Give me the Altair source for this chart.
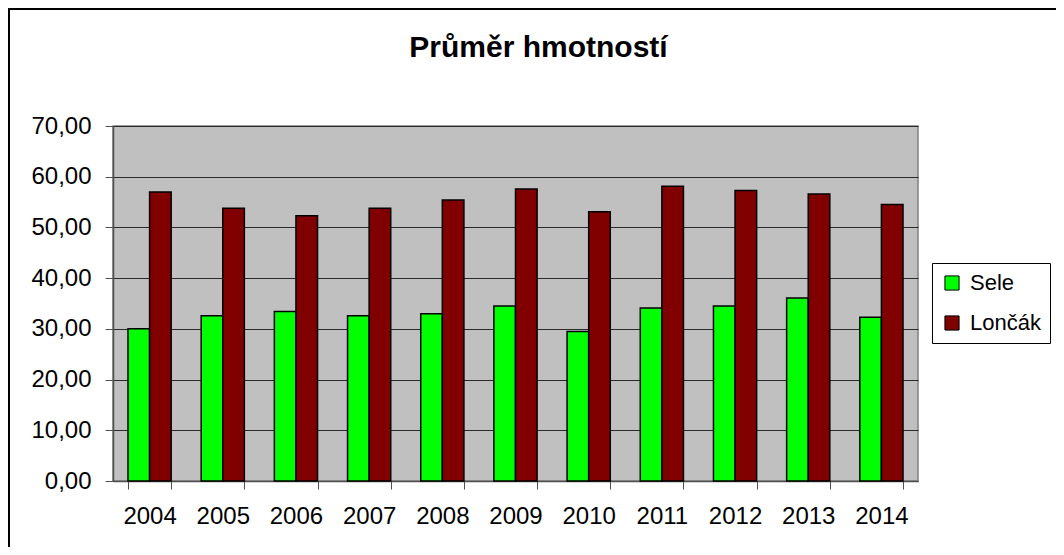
import altair as alt
import pandas as pd

years = ["2004", "2005", "2006", "2007", "2008", "2009", "2010", "2011", "2012", "2013", "2014"]
sele = [30.0, 32.6, 33.4, 32.6, 33.0, 34.5, 29.5, 34.1, 34.5, 36.1, 32.3]
loncak = [57.0, 53.8, 52.3, 53.8, 55.4, 57.6, 53.1, 58.1, 57.3, 56.6, 54.5]
series = ["Sele", "Lončák"]
colors = ["#00FF00", "#800000"]
y_ticks = [0, 10, 20, 30, 40, 50, 60, 70]

rows = []
for i, yr in enumerate(years):
    rows.append({"year": yr, "series": "Sele", "value": sele[i]})
    rows.append({"year": yr, "series": "Lončák", "value": loncak[i]})
df = pd.DataFrame(rows)

FONT = "Liberation Sans"

bars = alt.Chart(df).mark_bar(stroke="black", strokeWidth=1.5).encode(
    x=alt.X("year:N", sort=years,
            scale=alt.Scale(paddingInner=0.41, paddingOuter=0.205),
            axis=alt.Axis(title=None, labelAngle=0, tickBand="extent",
                          labelFontSize=24, labelFont=FONT, labelColor="black",
                          labelPadding=15, tickSize=8, tickColor="#505050",
                          domainColor="#505050", domainWidth=1.5, grid=False)),
    xOffset=alt.XOffset("series:N", sort=series,
                        scale=alt.Scale(paddingInner=0, paddingOuter=0)),
    y=alt.Y("value:Q", scale=alt.Scale(domain=[0, 70], nice=False),
            axis=alt.Axis(title=None, values=y_ticks,
                          labelExpr="replace(format(datum.value, '.2f'), '.', ',')",
                          labelFontSize=24, labelFont=FONT, labelColor="black",
                          labelPadding=14, tickSize=8, tickColor="#505050",
                          domainColor="#505050", domainWidth=1.5,
                          grid=True, gridColor="#2a2a2a", gridWidth=1)),
    color=alt.Color("series:N", sort=series,
                    scale=alt.Scale(domain=series, range=colors),
                    legend=alt.Legend(title=None, orient="none",
                                      legendX=819, legendY=137)),
)

border = alt.Chart(pd.DataFrame({"a": [0]})).mark_rect(
    fill=None, stroke="black", strokeWidth=2
).encode(
    x=alt.value(-104), x2=alt.value(1000),
    y=alt.value(-117), y2=alt.value(500),
)

chart = alt.layer(border, bars).properties(
    width=805, height=355,
    background="white",
    autosize=alt.AutoSizeParams(type="none"),
    padding={"left": 105, "top": 118, "right": 138, "bottom": 66},
    title=alt.TitleParams("Průměr hmotností", font=FONT, fontSize=30,
                          fontWeight="bold", color="black", anchor="middle",
                          frame="group", dx=23, offset=-79, baseline="alphabetic"),
).configure_view(
    fill="#C0C0C0", stroke="#808080", strokeWidth=1.5
).configure_legend(
    strokeColor="black", fillColor="white", padding=9,
    symbolType="square", symbolSize=200, symbolStrokeColor="black",
    symbolStrokeWidth=1, labelFontSize=22, labelFont=FONT, labelColor="black",
    rowPadding=18, labelOffset=7, cornerRadius=0
)

chart.save("out.html", embed_options={"renderer": "svg", "actions": False})
